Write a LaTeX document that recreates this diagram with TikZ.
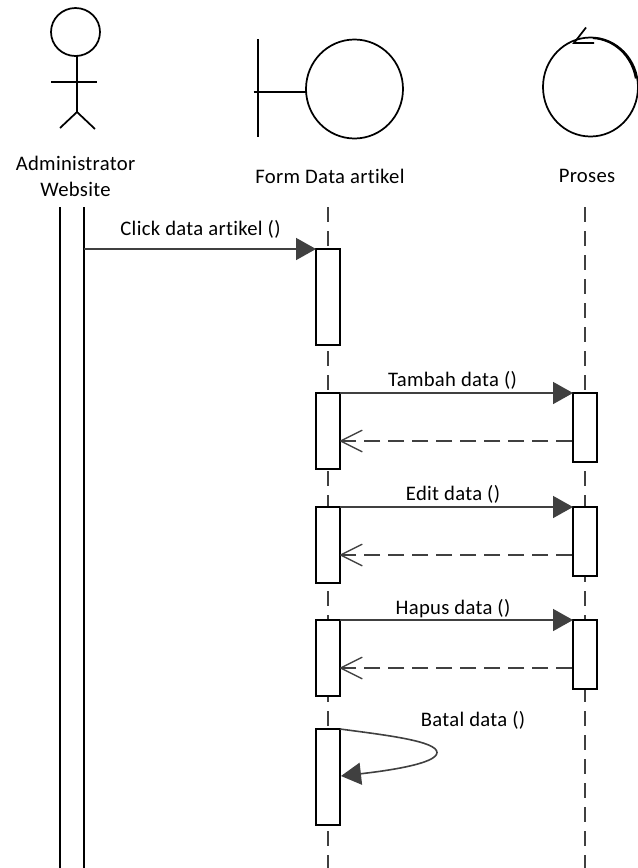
\documentclass[tikz,border=0pt]{standalone}
\usepackage{fontspec}
\setmainfont[LetterSpace=1.5,RawFeature=-liga]{Carlito}
\usetikzlibrary{arrows.meta,calc}
\definecolor{msgcol}{HTML}{404040}
\tikzset{
  shape line/.style={draw=black,line width=1.3pt},
  activation/.style={draw=black,line width=1.3pt,fill=white,rectangle,anchor=north west,minimum width=18pt,inner sep=0pt,outer sep=0pt},
  lifeline/.style={draw=msgcol,line width=1.2pt,dash pattern=on 11.5pt off 6.5pt},
  msgcall/.style={draw=msgcol,line width=1.2pt,-{Triangle[length=15pt,width=16.5pt,fill=msgcol]}},
  msgreturn/.style={draw=msgcol,line width=1.2pt,dash pattern=on 12pt off 6pt,-{Straight Barb[length=16pt,width=16pt,line width=1pt,round]}},
  lab/.style={font=\fontsize{15.5}{19.5}\selectfont,inner sep=0pt,text=black}
}
\begin{document}
\begin{tikzpicture}[x=0.75pt,y=-0.75pt]
\useasboundingbox (0,0) rectangle (638,868);
\fill[white] (0,0) rectangle (638,868);
% actor
\draw[shape line] (75.5,32) ellipse [x radius=24.5,y radius=24];
\coordinate (neck) at (77,56);
\coordinate (hip) at (77,112);
\coordinate (armL) at (51,82);
\coordinate (armR) at (97,82);
\coordinate (legL) at (60,128);
\coordinate (legR) at (95,129);
\draw[shape line] (neck) -- (hip);
\draw[shape line] (armL) -- (armR);
\draw[shape line] (legL) -- (hip) -- (legR);
% boundary
\draw[shape line] (354.5,89) ellipse [x radius=48.5,y radius=49.5];
\coordinate (bTop) at (258,39);
\coordinate (bBot) at (258,136.5);
\coordinate (bL) at (253.5,92);
\coordinate (bR) at (306,92);
\draw[shape line] (bTop) -- (bBot);
\draw[shape line] (bL) -- (bR);
% control
\draw[shape line] (590.5,87) ellipse [x radius=47.5,y radius=49.5];
\draw[line width=1.6pt] (593,38) arc [start angle=-87,end angle=-10,x radius=46,y radius=49];
\coordinate (cTip) at (574,43);
\coordinate (cUp) at (586,27.5);
\coordinate (cRt) at (594,43);
\draw[shape line] (cUp) -- (cTip) -- (cRt);
% labels
\node[lab,align=center] (admin) at (75.5,176) {Administrator\\Website};
\node[lab] (form) at (330,176) {Form Data artikel};
\node[lab] (proses) at (587,176) {Proses};
% lifelines
\coordinate (aL1) at (60,207);
\coordinate (aL2) at (60,868);
\coordinate (aR1) at (84,207);
\coordinate (aR2) at (84,868);
\coordinate (fTop) at (328,207);
\coordinate (fBot) at (328,868);
\coordinate (pTop) at (585,207);
\coordinate (pBot) at (585,868);
\draw[shape line] (aL1) -- (aL2);
\draw[shape line] (aR1) -- (aR2);
\draw[lifeline] (fTop) -- (fBot);
\draw[lifeline] (pTop) -- (pBot);
% activations
\node[activation,minimum height=72pt] (f0) at (316,249) {};
\node[activation,minimum height=57pt] (f1) at (316,393) {};
\node[activation,minimum height=57pt] (f2) at (316,507) {};
\node[activation,minimum height=57pt] (f3) at (316,620) {};
\node[activation,minimum height=72pt] (f4) at (316,729) {};
\node[activation,minimum height=52pt] (p1) at (573,393) {};
\node[activation,minimum height=52pt] (p2) at (573,507) {};
\node[activation,minimum height=52pt] (p3) at (573,620) {};
% messages
\coordinate (aStart) at (84,249);
\draw[msgcall] (aStart) -- (f0.north west);
\draw[msgcall] (f1.north east) -- (p1.north west);
\draw[msgcall] (f2.north east) -- (p2.north west);
\draw[msgcall] (f3.north east) -- (p3.north west);
\draw[msgreturn] ($(p1.north west)+(-1,48)$) -- ($(f1.north east)+(0,48)$);
\draw[msgreturn] ($(p2.north west)+(-1,48)$) -- ($(f2.north east)+(0,48)$);
\draw[msgreturn] ($(p3.north west)+(-1,48)$) -- ($(f3.north east)+(0,48)$);
\draw[msgcall] (f4.north east) .. controls ($(f4.north east)+(45,6)$) and (437,741) .. (437,752.5) .. controls (437,764) and (385,771) .. ($(f4.north east)+(1,47)$);
% message labels
\node[lab] (m0) at (200.5,229.5) {Click data artikel ()};
\node[lab] (m1) at (452.5,380.5) {Tambah data ()};
\node[lab] (m2) at (453,494.5) {Edit data ()};
\node[lab] (m3) at (453,608.5) {Hapus data ()};
\node[lab] (m4) at (473,720.5) {Batal data ()};
\end{tikzpicture}
\end{document}
